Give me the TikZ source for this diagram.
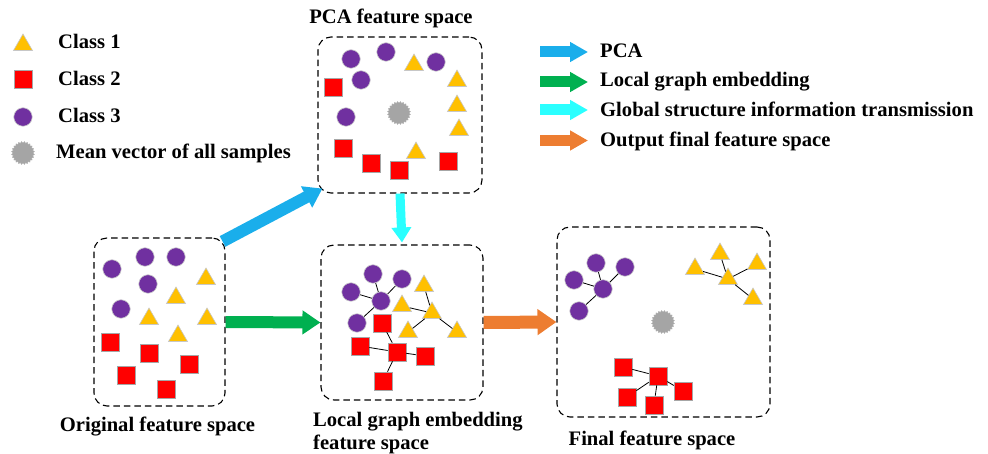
\documentclass[tikz,border=0pt]{standalone}
\usepackage{fontspec}
\setmainfont{Liberation Serif}
\usetikzlibrary{shapes.geometric,arrows.meta,calc}
\definecolor{triC}{HTML}{FFC000}
\definecolor{sqC}{HTML}{FF0000}
\definecolor{ciC}{HTML}{7030A0}
\definecolor{stC}{HTML}{A5A5A5}
\definecolor{pcaC}{HTML}{1AAEEB}
\definecolor{lgeC}{HTML}{00B050}
\definecolor{gsiC}{HTML}{2BFFFF}
\definecolor{outC}{HTML}{ED7D31}
\tikzset{
  tri/.style={regular polygon,regular polygon sides=3,minimum size=22pt,inner sep=0pt,fill=triC,draw=black!22,line width=0.6pt},
  sq/.style={rectangle,minimum size=18pt,inner sep=0pt,fill=sqC,draw=black!35,line width=0.6pt},
  ci/.style={circle,minimum size=18.5pt,inner sep=0pt,fill=ciC,draw=black!20,line width=0.6pt},
  meanpt/.style={star,star points=24,star point ratio=0.86,minimum size=20pt,inner sep=0pt,fill=stC,draw=stC!80,line width=0.3pt},
  spacebox/.style={rectangle,draw=black,dash pattern=on 6.5pt off 4pt,line width=1.1pt,rounded corners=13pt,inner sep=0pt},
  lbl/.style={font=\fontsize{20.6}{23}\selectfont\bfseries,inner sep=0pt},
  edge/.style={draw=black,line width=0.8pt},
  bigarrow/.style={line width=12pt,-{Triangle[width=23pt,length=18pt]}},
  legarrow/.style={line width=11pt,-{Triangle[width=19pt,length=18pt]}},
}
\begin{document}
\begin{tikzpicture}[x=1pt,y=-1pt]
\useasboundingbox (0,0) rectangle (988,454);
% ---------- legend (left)
\node[tri] (lt) at (23,45) {};
\node[sq] (ls) at (23,79) {};
\node[ci] (lc) at (23,117) {};
\node[meanpt] (lm) at (23,153) {};
\node[lbl,anchor=base west] (ltt) at (58,49) {Class 1};
\node[lbl,anchor=base west] (lst) at (58,86) {Class 2};
\node[lbl,anchor=base west] (lct) at (58,123) {Class 3};
\node[lbl,anchor=base west] (lmt) at (56,159) {Mean vector of all samples};
% ---------- legend (right)
\coordinate (a1s) at (540,52); \coordinate (a1e) at (588,52);
\coordinate (a2s) at (540,82); \coordinate (a2e) at (588,82);
\coordinate (a3s) at (540,110); \coordinate (a3e) at (588,110);
\coordinate (a4s) at (540,140.5); \coordinate (a4e) at (588,140.5);
\draw[legarrow,pcaC] (a1s) -- (a1e);
\draw[legarrow,lgeC] (a2s) -- (a2e);
\draw[legarrow,gsiC] (a3s) -- (a3e);
\draw[legarrow,outC] (a4s) -- (a4e);
\node[lbl,anchor=base west] (t1) at (600,58) {PCA};
\node[lbl,anchor=base west] (t2) at (600,87) {Local graph embedding};
\node[lbl,anchor=base west] (t3) at (600,117) {Global structure information transmission};
\node[lbl,anchor=base west] (t4) at (600,146.5) {Output final feature space};
% ---------- boxes
\node[spacebox,minimum width=131pt,minimum height=168pt] (orig) at (159.5,322) {};
\node[spacebox,minimum width=164pt,minimum height=156pt] (pca) at (400,115) {};
\node[spacebox,minimum width=162pt,minimum height=155pt] (lge) at (402,322.5) {};
\node[spacebox,minimum width=213pt,minimum height=190pt] (fin) at (663.5,322) {};
% ---------- titles
\node[lbl,anchor=base] (pcat) at (391,24) {PCA feature space};
\node[lbl,anchor=base] (origt) at (157.5,431) {Original feature space};
\node[lbl,anchor=base west] (lget) at (313,426) {Local graph embedding};
\node[lbl,anchor=base west] (lget2) at (313,449) {feature space};
\node[lbl,anchor=base] (fint) at (652,445) {Final feature space};
% ---------- original feature space
\node[ci] (o1) at (112,269) {};
\node[ci] (o2) at (145,257) {};
\node[ci] (o3) at (176,257) {};
\node[ci] (o4) at (148,284) {};
\node[ci] (o5) at (121,309) {};
\node[tri] (o6) at (206,279) {};
\node[tri] (o7) at (176,298) {};
\node[tri] (o8) at (149,319) {};
\node[tri] (o9) at (207,319) {};
\node[tri] (o10) at (178,336) {};
\node[sq] (o11) at (110,342) {};
\node[sq] (o12) at (149,353) {};
\node[sq] (o13) at (189,364) {};
\node[sq] (o14) at (126,375) {};
\node[sq] (o15) at (166,389) {};
% ---------- PCA feature space
\node[ci] (p1) at (351,59) {};
\node[ci] (p2) at (386,52) {};
\node[ci] (p3) at (436,62) {};
\node[ci] (p4) at (361,80) {};
\node[ci] (p5) at (346,117) {};
\node[tri] (p6) at (414,65) {};
\node[tri] (p7) at (457,81) {};
\node[tri] (p8) at (457,106) {};
\node[tri] (p9) at (459,130) {};
\node[tri] (p10) at (416,153) {};
\node[sq] (p11) at (333,87) {};
\node[sq] (p12) at (343,148) {};
\node[sq] (p13) at (371,163) {};
\node[sq] (p14) at (399,170) {};
\node[sq] (p15) at (448,161) {};
\node[meanpt] (pm) at (399,113) {};
% ---------- local graph embedding feature space
\node[ci] (g1) at (373,274) {};
\node[ci] (g2) at (402,279) {};
\node[ci] (g3) at (351,292) {};
\node[ci] (g4) at (381,301) {};
\node[ci] (g5) at (357,323) {};
\node[tri] (g6) at (424,286) {};
\node[tri] (g7) at (402,306) {};
\node[tri] (g8) at (432,313) {};
\node[tri] (g9) at (408,332) {};
\node[tri] (g10) at (457,332) {};
\node[sq] (g11) at (382,323) {};
\node[sq] (g12) at (360,346) {};
\node[sq] (g13) at (397,352) {};
\node[sq] (g14) at (425,356) {};
\node[sq] (g15) at (383,381) {};
\foreach \a in {g1,g2,g3,g5} \draw[edge] (\a) -- (g4);
\foreach \a in {g6,g7,g9,g10} \draw[edge] (\a) -- (g8);
\foreach \a in {g11,g12,g14,g15} \draw[edge] (\a) -- (g13);
% ---------- final feature space
\node[ci] (f1) at (596,263) {};
\node[ci] (f2) at (625,267) {};
\node[ci] (f3) at (574,280) {};
\node[ci] (f4) at (603,289) {};
\node[ci] (f5) at (579,311) {};
\node[tri] (f6) at (720,254) {};
\node[tri] (f7) at (757,264) {};
\node[tri] (f8) at (695,269) {};
\node[tri] (f9) at (728,279) {};
\node[tri] (f10) at (753,299) {};
\node[sq] (f11) at (623,367) {};
\node[sq] (f12) at (658,376) {};
\node[sq] (f13) at (627,397) {};
\node[sq] (f14) at (683,391) {};
\node[sq] (f15) at (654,405) {};
\node[meanpt] (fm) at (663,322) {};
\foreach \a in {f1,f2,f3,f5} \draw[edge] (\a) -- (f4);
\foreach \a in {f6,f7,f8,f10} \draw[edge] (\a) -- (f9);
\foreach \a in {f11,f13,f14,f15} \draw[edge] (\a) -- (f12);
% ---------- main arrows
\draw[bigarrow,pcaC] ($(orig.north east)+(-3,4)$) -- ($(pca.south west)+(5,-5)$);
\draw[line width=9pt,-{Triangle[width=19pt,length=15pt]},gsiC] (pca.south) -- ($(lge.north)+(0,-2)$);
\draw[bigarrow,lgeC] (orig.east) -- (lge.west);
\draw[line width=13pt,-{Triangle[width=25pt,length=19pt]},outC] (lge.east) -- (fin.west);
\end{tikzpicture}
\end{document}
